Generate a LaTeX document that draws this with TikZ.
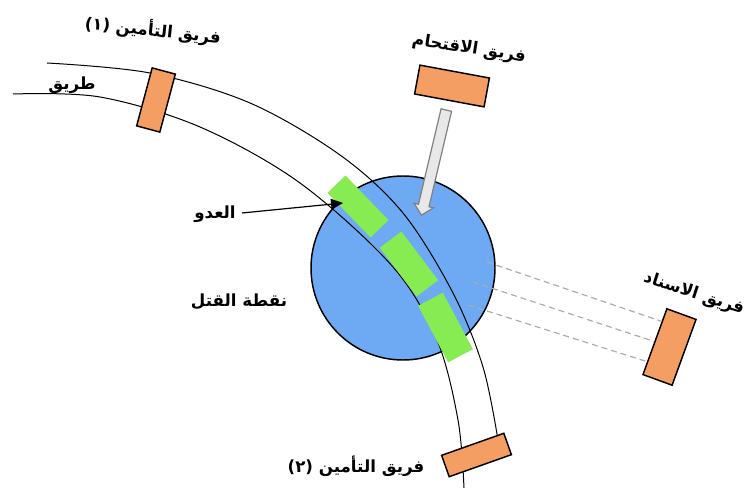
\documentclass[tikz,border=0pt]{standalone}
\usepackage{fontspec}
\usepackage{xcolor}
\usetikzlibrary{shapes.arrows}
\usetikzlibrary{arrows.meta}
\usetikzlibrary{calc}
\newfontfamily\arabicfont[Script=Arabic]{DejaVu Sans}
\TeXXeTstate=1

\definecolor{teamorange}{RGB}{245,158,100}
\definecolor{enemygreen}{RGB}{134,236,82}
\definecolor{killblue}{RGB}{110,169,243}

\tikzset{
  team/.style={draw=black, line width=1.1, fill=teamorange, inner sep=0pt},
  enemybox/.style={fill=enemygreen, inner sep=0pt},
  arlabel/.style={inner sep=0.75pt, font=\arabicfont\bfseries\fontsize{12.5}{14}\selectfont},
  roadline/.style={line width=0.75},
  fireline/.style={draw=gray!65, dash pattern={on 4.5pt off 3pt}, line width=0.9},
}

\begin{document}
\begin{tikzpicture}[x=0.75pt,y=0.75pt,yscale=-1,xscale=1]
\useasboundingbox (0,0) rectangle (745,488);

%Shape: Circle
\node [circle, draw=black, line width=1.1, fill=killblue, minimum size=138pt, inner sep=0pt] (kill) at (403,268) {};

%Curve Lines
\draw [roadline] plot [smooth, tension=0.55] coordinates {(47,63) (150,73) (250,103) (340,155) (403,213) (453,293) (483,367) (498,440)};
%Curve Lines
\draw [roadline] plot [smooth, tension=0.55] coordinates {(13,94) (100,97) (200,127) (300,183) (393,267) (437,340) (458,420) (464,488)};

%Shape: Rectangle
\node [enemybox, minimum width=46.5pt, minimum height=18.75pt, rotate=-46] (en1) at (358,206.5) {};
%Shape: Rectangle
\node [enemybox, minimum width=45.75pt, minimum height=20.25pt, rotate=-53] (en2) at (409,264) {};
%Shape: Rectangle
\node [enemybox, minimum width=48pt, minimum height=21pt, rotate=-62] (en3) at (445.5,327.5) {};

%Shape: Rectangle
\node [team, minimum width=18pt, minimum height=45pt, rotate=-15] (sec1) at (156,100) {};
%Shape: Rectangle
\node [team, minimum width=53pt, minimum height=22pt, rotate=-10.5] (assault) at (452,86) {};
%Shape: Rectangle
\node [team, minimum width=23.25pt, minimum height=52.5pt, rotate=-20] (support) at (669.5,347) {};
%Shape: Rectangle
\node [team, minimum width=49.5pt, minimum height=17pt, rotate=19.5] (sec2) at (476.5,455) {};

%Straight Lines
\coordinate (f1) at (487,262);
\coordinate (f2) at (473,282);
\coordinate (f3) at (468,305);
\draw [fireline] (f1) -- ($(support.north west)!0.2!(support.south west)$);
\draw [fireline] (f2) -- ($(support.north west)!0.5!(support.south west)$);
\draw [fireline] (f3) -- ($(support.north west)!0.8!(support.south west)$);

%Shape: Single Arrow
\node [single arrow, draw=gray, line width=0.9, fill=gray!18, minimum height=81pt, inner xsep=0pt, inner ysep=3.6pt, single arrow head extend=3.4pt, rotate=-103.3] (push) at (434.5,160) {};

% Text Node
\node [arlabel, rotate=-6] (lsec1) at (153,30) {\beginR فريق التأمين \beginL(١)\endL\endR};
% Text Node
\node [arlabel] (lroad) at (72,85) {\beginR طريق\endR};
% Text Node
\node [arlabel, rotate=-9] (lassault) at (469,49) {\beginR فريق الاقتحام\endR};
% Text Node
\node [arlabel] (lenemy) at (215,214) {\beginR العدو\endR};
% Text Node
\node [arlabel] (lkill) at (239,302) {\beginR نقطة القتل\endR};
% Text Node
\node [arlabel, rotate=-18] (lsupport) at (694,294) {\beginR فريق الاسناد\endR};
% Text Node
\node [arlabel] (lsec2) at (356,466) {\beginR فريق التأمين \beginL(٢)\endL\endR};

%Straight Lines
\coordinate (hit) at (343,203);
\draw [line width=0.9, -{Triangle[length=9pt,width=8pt]}] (lenemy.east) ++(5,-1) -- (hit);

\end{tikzpicture}
\end{document}
